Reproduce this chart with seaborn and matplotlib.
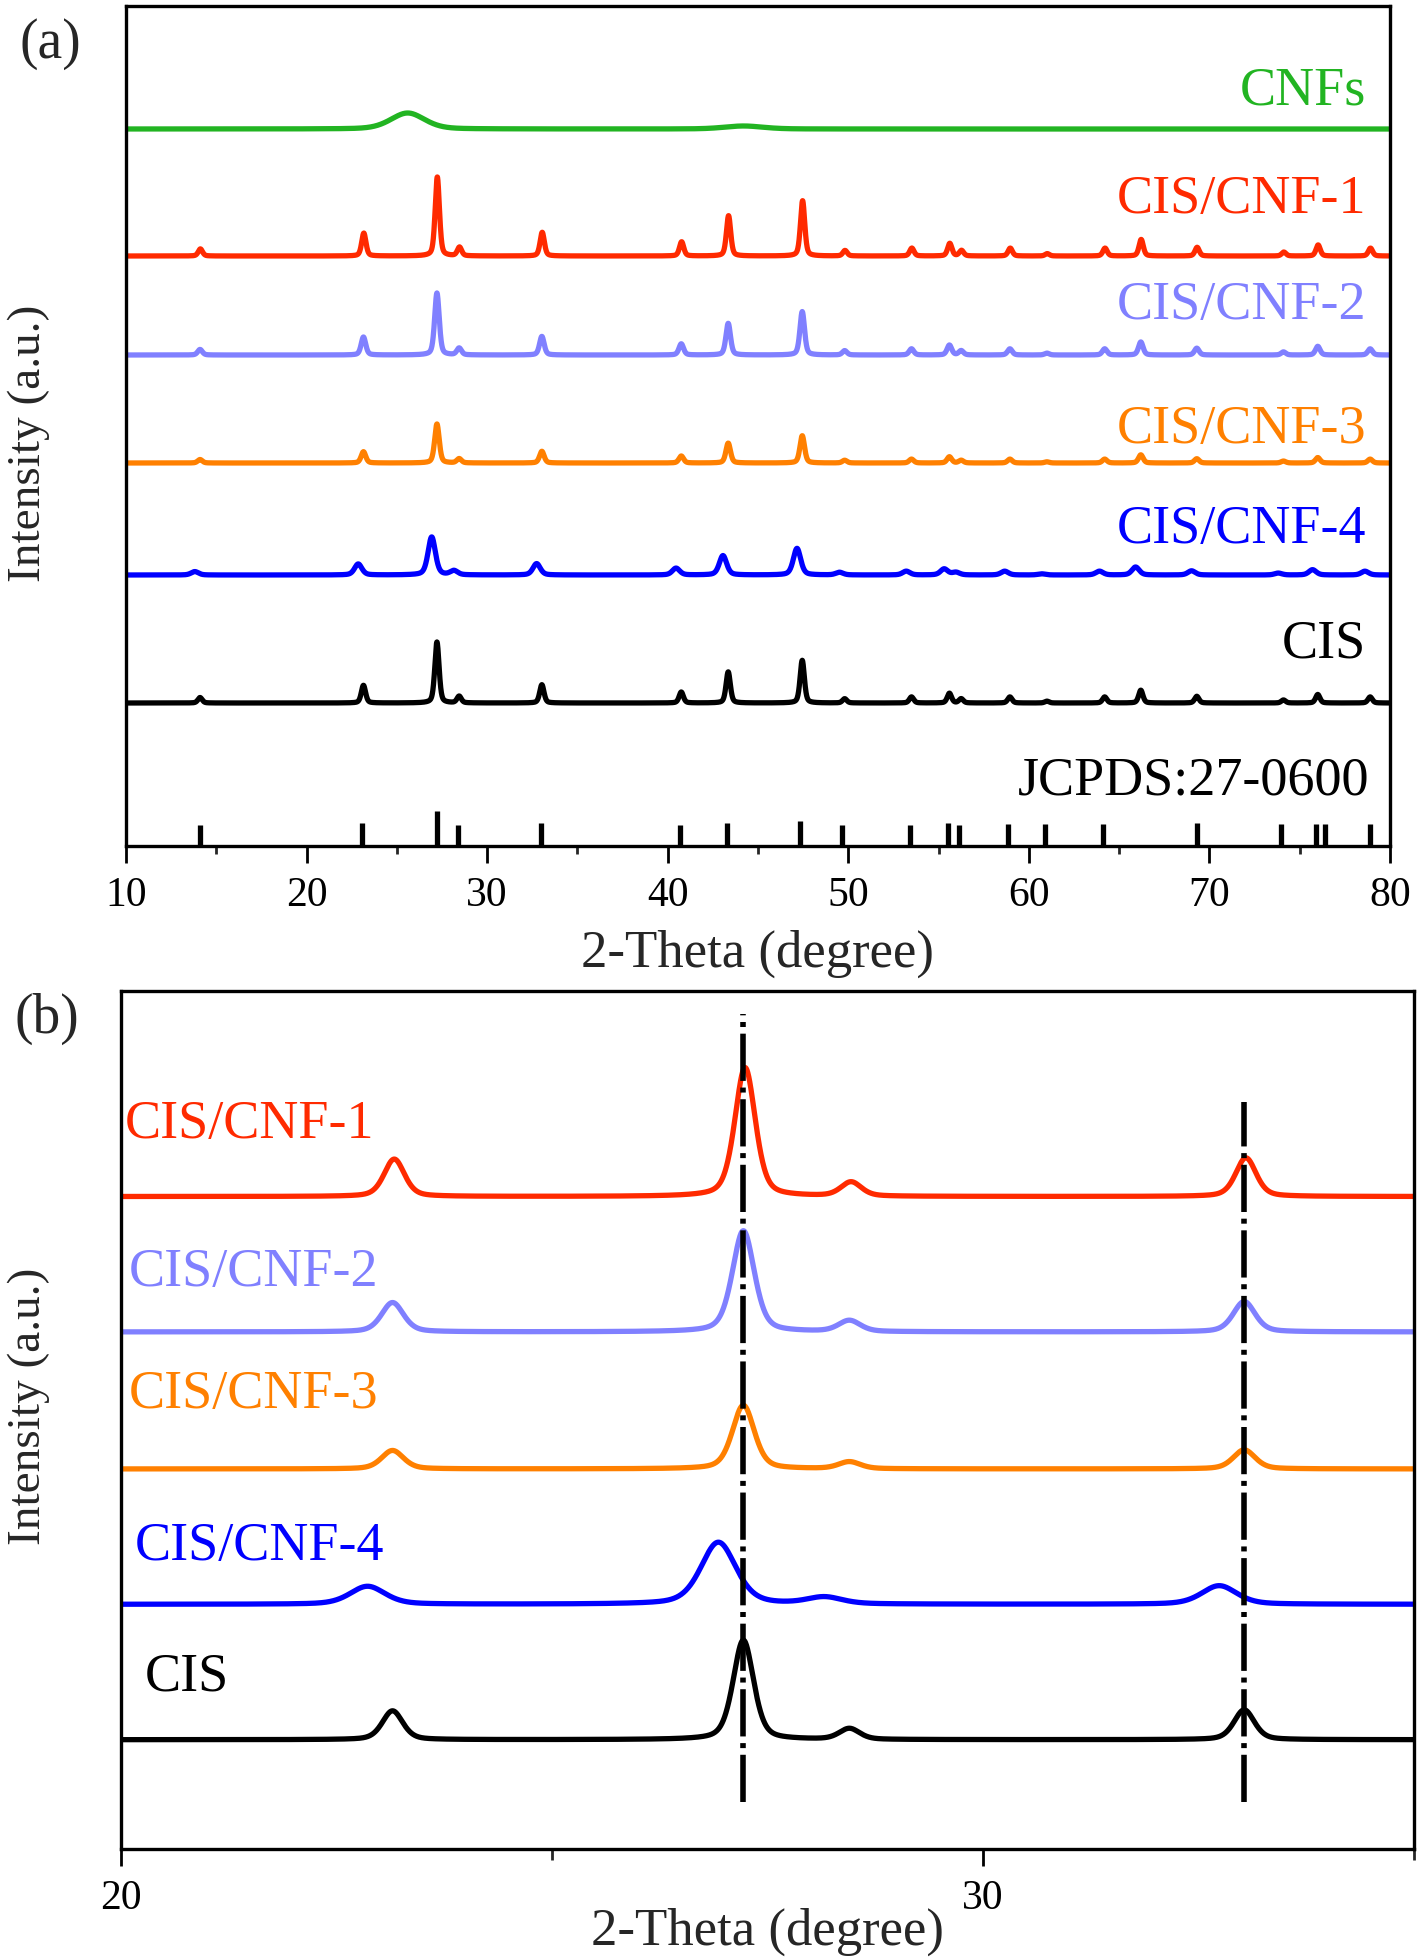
import numpy as np
import pandas as pd
import matplotlib
matplotlib.use('Agg')
import matplotlib.pyplot as plt
from matplotlib.ticker import MultipleLocator
import seaborn as sns

# --- data ---
samples = ["CNFs", "CIS/CNF-1", "CIS/CNF-2", "CIS/CNF-3", "CIS/CNF-4", "CIS"]
colors = ["#22b422", "#ff2a00", "#8080ff", "#ff8000", "#0000ff", "#000000"]

# CIS (chalcopyrite) reflections seen in the patterns, 2-theta (deg)
cis_peaks = [14.1, 23.15, 27.22, 28.45, 33.03, 40.75, 43.35, 47.45, 49.8, 53.5,
             55.6, 56.25, 58.95, 61.0, 64.2, 66.2, 69.3, 74.1, 76.0, 78.9]
# relative intensity (main peak = 100)
cis_rel = [9, 29, 100, 11, 30, 18, 51, 70, 7, 10,
           16, 7, 10, 3, 10, 21, 11, 5, 14, 10]

# per sample: main-peak height, peak shift, peak width (fwhm, deg)
main_height = {"CIS/CNF-1": 79, "CIS/CNF-2": 62, "CIS/CNF-3": 39, "CIS/CNF-4": 38, "CIS": 61}
peak_shift = {"CIS/CNF-1": 0.02, "CIS/CNF-2": 0.0, "CIS/CNF-3": 0.0, "CIS/CNF-4": -0.29, "CIS": 0.0}
peak_fwhm = {"CIS/CNF-1": 0.28, "CIS/CNF-2": 0.30, "CIS/CNF-3": 0.30, "CIS/CNF-4": 0.48, "CIS": 0.28}

# CNFs: broad carbon humps
cnf_peaks = [25.6, 44.2]
cnf_heights = [16, 3]
cnf_fwhm = [2.2, 2.5]

# vertical offsets of the stacked patterns
offset_a = {"CNFs": 717, "CIS/CNF-1": 590, "CIS/CNF-2": 491, "CIS/CNF-3": 383, "CIS/CNF-4": 271, "CIS": 143}
offset_b = {"CIS/CNF-1": 400, "CIS/CNF-2": 317, "CIS/CNF-3": 233, "CIS/CNF-4": 150, "CIS": 67}

# JCPDS 27-0600 reference lines
jcpds_pos = [14.1, 23.05, 27.25, 28.4, 33.0, 40.7, 43.3, 47.35, 49.65, 53.4,
             55.5, 56.15, 58.85, 60.9, 64.1, 69.3, 73.95, 75.9, 76.4, 78.9]
jcpds_int = [21, 23, 35, 21, 23, 21, 23, 25, 21, 21,
             23, 21, 22, 22, 22, 23, 22, 22, 22, 22]

marker_lines = [27.22, 33.03]


def pv(x, centers, heights, widths, eta=0.4):
    y = np.zeros_like(x)
    for c, h, w in zip(centers, heights, widths):
        d = (x - c) ** 2 / w ** 2
        y += h * (eta / (1 + 4 * d) + (1 - eta) * np.exp(-4 * np.log(2) * d))
    return y


def pattern(name, x):
    if name == "CNFs":
        return pv(x, cnf_peaks, cnf_heights, cnf_fwhm, eta=0.3)
    h = main_height[name]
    pos = [p + peak_shift[name] for p in cis_peaks]
    return pv(x, pos, [r * h / 100 for r in cis_rel], [peak_fwhm[name]] * len(pos))


x_a = np.linspace(10, 80, 8001)
x_b = np.linspace(20, 35, 4001)

rows = []
for s in samples:
    rows.append(pd.DataFrame({"theta": x_a, "intensity": pattern(s, x_a) + offset_a[s],
                              "sample": s, "panel": "a"}))
    if s in offset_b:
        rows.append(pd.DataFrame({"theta": x_b, "intensity": pattern(s, x_b) + offset_b[s],
                                  "sample": s, "panel": "b"}))
df = pd.concat(rows, ignore_index=True)
palette = dict(zip(samples, colors))

sns.set_theme(style="ticks")
plt.rcParams['font.family'] = ['Liberation Serif', 'DejaVu Serif']

fig = plt.figure(figsize=(14.18, 19.60), dpi=100)
ax_a = fig.add_axes([126 / 1418, 1 - 846 / 1960, 1264 / 1418, 840 / 1960])
ax_b = fig.add_axes([121 / 1418, 1 - 1849 / 1960, 1293 / 1418, 858 / 1960])

# ---- panel (a) ----
sns.lineplot(data=df[df.panel == "a"], x="theta", y="intensity", hue="sample",
             palette=palette, estimator=None, sort=False, legend=False,
             linewidth=3.8, ax=ax_a)
ax_a.vlines(jcpds_pos, 0, jcpds_int, colors="black", linewidth=3.8)
ax_a.set_xlim(10, 80)
ax_a.set_ylim(0, 840)
ax_a.xaxis.set_major_locator(MultipleLocator(10))
ax_a.xaxis.set_minor_locator(MultipleLocator(5))

lab_y_a = [0.899, 0.769, 0.643, 0.496, 0.376, 0.240]
for s, c, yy in zip(samples, colors, lab_y_a):
    ax_a.text(0.981, yy, s, color=c, fontsize=39, ha="right", va="center",
              transform=ax_a.transAxes)
ax_a.text(0.984, 0.077, "JCPDS:27-0600", color="black", fontsize=39, ha="right",
          va="center", transform=ax_a.transAxes)

# ---- panel (b) ----
sns.lineplot(data=df[df.panel == "b"], x="theta", y="intensity", hue="sample",
             palette=palette, estimator=None, sort=False, legend=False,
             linewidth=3.8, ax=ax_b)
for xm, top in zip(marker_lines, [512, 458]):
    ax_b.plot([xm, xm], [29, top], color="black", linewidth=4.0,
              dashes=(8.5, 1.2, 0.9, 1.2))
ax_b.set_xlim(20, 35)
ax_b.set_ylim(0, 526)
ax_b.xaxis.set_major_locator(MultipleLocator(10))
ax_b.xaxis.set_minor_locator(MultipleLocator(5))

lab_b = [("CIS/CNF-1", 0.003, 0.844), ("CIS/CNF-2", 0.006, 0.672), ("CIS/CNF-3", 0.006, 0.530),
         ("CIS/CNF-4", 0.011, 0.352), ("CIS", 0.018, 0.200)]
for s, xx, yy in lab_b:
    ax_b.text(xx, yy, s, color=palette[s], fontsize=39, ha="left", va="center",
              transform=ax_b.transAxes)

# ---- common styling ----
for ax in (ax_a, ax_b):
    ax.set_yticks([])
    ax.set_xlabel("2-Theta (degree)", fontsize=38)
    ax.set_ylabel("Intensity (a.u.)", fontsize=34)
    ax.tick_params(axis="x", which="major", direction="out", length=12, width=2,
                   labelsize=30, pad=10, colors="black")
    ax.tick_params(axis="x", which="minor", direction="out", length=6, width=2)
    for sp in ax.spines.values():
        sp.set_linewidth(2.4)
        sp.set_color("black")
ax_a.xaxis.set_label_coords(0.5, -0.100)
ax_b.xaxis.set_label_coords(0.5, -0.068)
ax_a.yaxis.set_label_coords(-0.060, 0.479)
ax_b.yaxis.set_label_coords(-0.055, 0.516)
ax_b.tick_params(axis="x", which="minor", length=8)

fig.text(50 / 1418, 1 - 44 / 1960, "(a)", fontsize=40, ha="center", va="center")
fig.text(47 / 1418, 1 - 1019 / 1960, "(b)", fontsize=40, ha="center", va="center")

fig.savefig("out.png", dpi=100)
plt.close(fig)
